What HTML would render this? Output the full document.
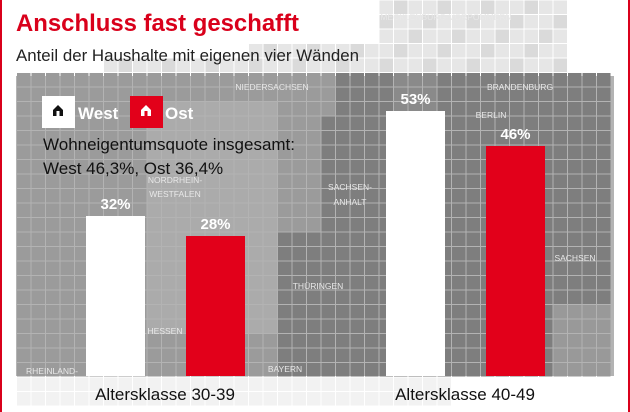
<!DOCTYPE html>
<html><head><meta charset="utf-8">
<style>
html,body{margin:0;padding:0;background:#fff}
#wrap{position:relative;width:630px;height:412px;overflow:hidden;font-family:"Liberation Sans",sans-serif;border-left:2px solid #d9001b;border-right:2px solid #d9001b;box-sizing:border-box}
svg{position:absolute;left:0;top:0}
</style></head><body>
<div id="wrap">
<svg id="c" width="630" height="412"></svg>
</div>
<script>
const categories=["Altersklasse 30-39","Altersklasse 40-49"];
const westValues=[32,53];
const ostValues=[28,46];
const valueLabels=[["32%","28%"],["53%","46%"]];
const NS="http://www.w3.org/2000/svg";
const svg=document.getElementById('c');
function mk(tag,attrs,parent){const e=document.createElementNS(NS,tag);for(const k in attrs)e.setAttribute(k,attrs[k]);(parent||svg).appendChild(e);return e;}
const bg=mk('g',{});


mk('rect',{x:14,y:76,width:598,height:300,fill:'#b3b3b3'},bg);
const cs=14.5;
for(let gy=0;gy<29;gy++){for(let gx=0;gx<44;gx++){
 const x=gx*cs,y=gy*cs,cx=x+7,cy=y+7;let col=null;
 const inPanel=cx>14&&cx<612&&cy>76&&cy<376;
 if(inPanel){
  if(cx>372&&cx<384)continue;
  if(cx>330||(cx>270&&cy>230)||(cx>320&&cy>110)) col='#7e7e7e';
  else if(cx>150&&cx<270&&cy>100&&cy<330) col='#ababab';
  else col='#9b9b9b';
  if(cx>555&&cy>300) col='#999';
  if(cx>384&&cx<440&&cy<110) col='#8a8a8a';
 } else if(cy<76&&cx>95&&cx<560){ if(cy>2&&(cx>380||(cy>40&&cx>240)||cy>62)) col=(gx+gy)%3? '#e6e6e6':'#dadada';}
 else if(cy>376&&cy<408&&cx>20&&cx<450){ col='#f2f2f2';}
 if(col) mk('rect',{x:x+0.5,y:y+0.5,width:cs-1,height:cs-1,fill:col},bg);
}}
const labels=[["MECKLENBURG-VORPOMMERN",444,20],["NIEDERSACHSEN",270,90],["BRANDENBURG",518,90],["BERLIN",489,118],["NORDRHEIN-",173,183],["WESTFALEN",173,197],["SACHSEN-",348,190],["ANHALT",348,205],["SACHSEN",573,261],["THÜRINGEN",316,289],["HESSEN",163,334],["BAYERN",283,372],["RHEINLAND-",50,374]];
labels.forEach(l=>{const t=mk('text',{x:l[1],y:l[2],fill:'#e8e8e8','font-size':8.5,'text-anchor':'middle'});t.textContent=l[0];
});
let t=mk('text',{x:14,y:31,fill:'#d9001b','font-size':24,'font-weight':'bold',textLength:283,lengthAdjust:'spacingAndGlyphs'});t.textContent='Anschluss fast geschafft';

t=mk('text',{x:14,y:61,fill:'#222','font-size':17,textLength:343,lengthAdjust:'spacingAndGlyphs'});t.textContent='Anteil der Haushalte mit eigenen vier Wänden';

const baseY=376,pxPer=5;
function yS(v){return baseY-v*pxPer;}
const groupX=[84,384];
categories.forEach((c,i)=>{
 const wx=groupX[i],ox=groupX[i]+100;
 let r=mk('rect',{x:wx,y:yS(westValues[i]),width:59,height:westValues[i]*pxPer,fill:'#ffffff'});
 
 r=mk('rect',{x:ox,y:yS(ostValues[i]),width:59,height:ostValues[i]*pxPer,fill:'#e2001a'});
 
 let l=mk('text',{x:wx+29.5,y:yS(westValues[i])-7,fill:'#fff','font-size':15,'font-weight':'bold','text-anchor':'middle'});l.textContent=valueLabels[i][0];
 
 l=mk('text',{x:ox+29.5,y:yS(ostValues[i])-7,fill:'#fff','font-size':15,'font-weight':'bold','text-anchor':'middle'});l.textContent=valueLabels[i][1];
 
 l=mk('text',{x:wx+79,y:400,fill:'#111','font-size':17,'text-anchor':'middle'});l.textContent=c;
 
});
function house(x,y,fill){mk('path',{d:`M${x} ${y+5}L${x+5} ${y}L${x+10} ${y+5}V${y+11}H${x}Z`,fill:fill});mk('rect',{x:x+3.5,y:y+6,width:3,height:5,fill:fill==='#111'?'#fff':'#e2001a'});}
let lg=mk('rect',{x:40,y:96,width:33,height:32,fill:'#fff'});
house(51,105,'#111');
t=mk('text',{x:76,y:119,fill:'#fff','font-size':17,'font-weight':'bold'});t.textContent='West';
lg=mk('rect',{x:128,y:96,width:33,height:32,fill:'#e2001a'});
house(139,105,'#fff');
t=mk('text',{x:163,y:119,fill:'#fff','font-size':17,'font-weight':'bold'});t.textContent='Ost';
t=mk('text',{x:41,y:150,fill:'#111','font-size':17});t.textContent='Wohneigentumsquote insgesamt:';
t=mk('text',{x:41,y:174,fill:'#111','font-size':17});t.textContent='West 46,3%, Ost 36,4%';
</script>
</body></html>
